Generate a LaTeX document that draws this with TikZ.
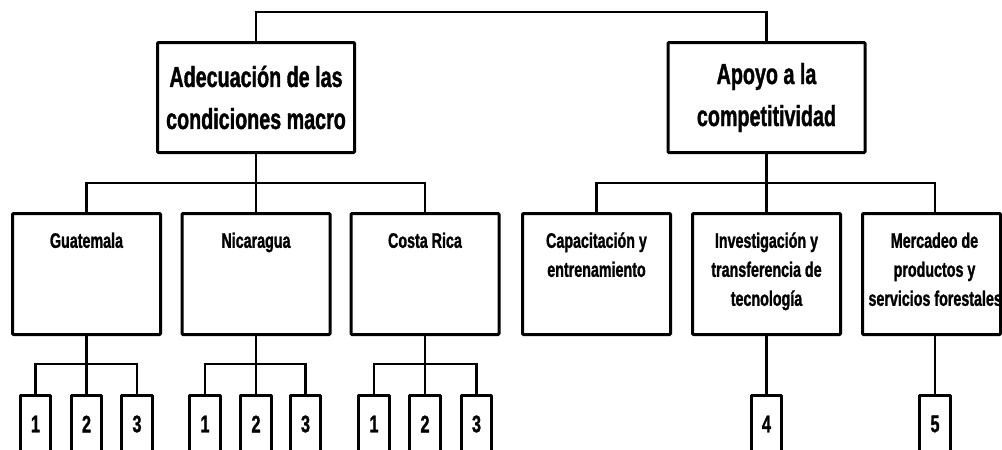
\documentclass[tikz,border=0pt]{standalone}
\usepackage{fontspec}
\setmainfont{Liberation Sans}[FakeStretch=0.68, BoldFeatures={FakeBold=1.2}]
\newcommand\mytxt[3][0pt]{\parbox[c][121pt][t]{#2}{\centering\leftskip=#1 plus 1fil\relax\vspace*{14pt}\strut #3}}
\begin{document}
\begin{tikzpicture}[x=1pt,y=-1pt,
  bigbox/.style={draw, line width=3pt, rounded corners=1pt, minimum width=197pt, minimum height=110pt, inner sep=0pt, align=center, font=\bfseries\fontsize{29}{42}\selectfont},
  midbox/.style={draw, line width=3pt, rounded corners=1pt, minimum width=148pt, minimum height=121pt, inner sep=0pt, font=\bfseries\fontsize{21}{29}\selectfont},
  numbox/.style={minimum width=30pt, minimum height=56pt, inner sep=0pt, font=\bfseries\fontsize{24}{28}\selectfont},
  conn/.style={line width=2.3pt},
  openbox/.style={line width=3.3pt, line join=round}]
\fill[white] (0,0) rectangle (1002,450);
\useasboundingbox (0,0) rectangle (1002,450);
\clip (0,0) rectangle (1002,450);

% top level
\node[bigbox] (ade) at (256,97.5) {Adecuación de las\\condiciones macro};
\node[bigbox] (apo) at (766.5,97.5) {Apoyo a la\\competitividad};

% second level
\node[midbox] (gua) at (86.5,274) {\mytxt{148pt}{Guatemala}};
\node[midbox] (nic) at (256,274) {\mytxt{148pt}{Nicaragua}};
\node[midbox] (cos) at (425,274) {\mytxt{148pt}{Costa Rica}};
\node[midbox] (cap) at (596.5,274) {\mytxt{148pt}{Capacitación y\\entrenamiento}};
\node[midbox] (inv) at (766.5,274) {\mytxt{148pt}{Investigación y\\transferencia de\\tecnología}};
\node[midbox, minimum width=138pt] (mer) at (931.5,274) {\mytxt[6pt]{138pt}{Mercadeo de\\productos y\\\mbox{servicios forestales}}};

% third level
\node[numbox] (g1) at (35.5,424) {1};
\node[numbox] (g2) at (86.5,424) {2};
\node[numbox] (g3) at (137,424) {3};
\node[numbox] (n1) at (205,424) {1};
\node[numbox] (n2) at (256,424) {2};
\node[numbox] (n3) at (305.5,424) {3};
\node[numbox] (c1) at (374,424) {1};
\node[numbox] (c2) at (425,424) {2};
\node[numbox] (c3) at (476.5,424) {3};
\node[numbox] (b4) at (766.5,424) {4};
\node[numbox] (b5) at (935,424) {5};

\foreach \n in {g1,g2,g3,n1,n2,n3,c1,c2,c3,b4,b5}
  \draw[openbox] (\n.south west) -- (\n.north west) -- (\n.north east) -- (\n.south east);

% connectors
\draw[conn] (ade.north) -- ++(0,-29) -| (apo.north);

\draw[conn] (ade.south) -- ++(0,29) coordinate (lb);
\draw[conn] (gua.north) |- (lb) -| (cos.north);
\draw[conn] (nic.north) -- (nic.north |- lb);

\draw[conn] (apo.south) -- ++(0,29) coordinate (rb);
\draw[conn] (cap.north) |- (rb) -| (b5.north |- mer.north);
\draw[conn] (inv.north) -- (inv.north |- rb);

\draw[conn] (gua.south) -- ++(0,28) coordinate (gb);
\draw[conn] (g1.north) |- (gb) -| (g3.north);
\draw[conn] (g2.north) -- (g2.north |- gb);

\draw[conn] (nic.south) -- ++(0,28) coordinate (nb);
\draw[conn] (n1.north) |- (nb) -| (n3.north);
\draw[conn] (n2.north) -- (n2.north |- nb);

\draw[conn] (cos.south) -- ++(0,28) coordinate (cb);
\draw[conn] (c1.north) |- (cb) -| (c3.north);
\draw[conn] (c2.north) -- (c2.north |- cb);

\draw[conn] (inv.south) -- (b4.north);
\draw[conn] (b5.north) -- (b5.north |- mer.south);
\end{tikzpicture}
\end{document}
